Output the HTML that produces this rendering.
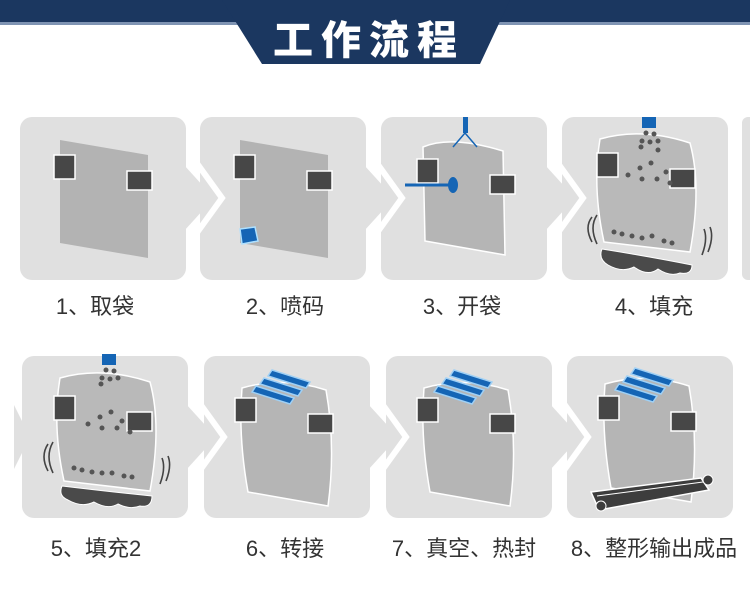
<!DOCTYPE html>
<html><head><meta charset="utf-8"><style>
html,body{margin:0;padding:0;background:#fff;width:750px;height:604px;overflow:hidden}
svg{display:block}
.lb{font-family:"Liberation Sans","Noto Sans CJK SC",sans-serif;font-size:22px;fill:#333}
</style></head><body>
<svg width="750" height="604" viewBox="0 0 750 604" xmlns="http://www.w3.org/2000/svg">
<defs>
<g id="tabs">
<rect x="34" y="38" width="21" height="24" fill="#474747" stroke="#fff" stroke-width="1.5"/>
<rect x="107" y="54" width="25" height="19" fill="#474747" stroke="#fff" stroke-width="1.5"/>
</g>
<g id="bars">
<g stroke="#9fd0f5" stroke-width="1.5" fill="#1565b5">
<polygon points="56,0 94,12 90,18 52,6"/>
<polygon points="48,8 86,20 82,26 44,14"/>
<polygon points="40,16 78,28 74,34 36,22"/>
</g>
</g>
<path id="rbag" d="M38,32 Q80,20 122,34 Q132,90 124,150 L44,136 Q34,80 38,32 Z" fill="#b5b5b5" stroke="#fff" stroke-width="1.5"/>
</defs>
<!-- header -->
<rect x="0" y="0" width="750" height="22" fill="#1b3760"/>
<rect x="0" y="22" width="750" height="3" fill="#7f94b3"/>
<polygon points="222,0 510,0 480,64 262,64" fill="#1b3760"/>
<text x="369" y="54" text-anchor="middle" font-family="'Noto Sans CJK SC',sans-serif" font-weight="900" font-size="40" fill="#fff" letter-spacing="8">工作流程</text>

<!-- panels -->
<g fill="#e0e0e0">
<rect x="20" y="117" width="166" height="163" rx="12"/>
<rect x="200" y="117" width="166" height="163" rx="12"/>
<rect x="381" y="117" width="166" height="163" rx="12"/>
<rect x="562" y="117" width="166" height="163" rx="12"/>
<rect x="742" y="117" width="20" height="163" rx="6"/>
<rect x="22" y="356" width="166" height="162" rx="12"/>
<rect x="204" y="356" width="166" height="162" rx="12"/>
<rect x="386" y="356" width="166" height="162" rx="12"/>
<rect x="567" y="356" width="166" height="162" rx="12"/>
<polygon points="14,405 30,437 14,469"/>
</g>
<!-- arrows -->
<g>
<g fill="#e0e0e0">
<polygon points="184,165 214,198 184,231"/>
<polygon points="364,165 394,198 364,231"/>
<polygon points="545,165 575,198 545,231"/>
<polygon points="186,404 216,437 186,470"/>
<polygon points="368,404 398,437 368,470"/>
<polygon points="550,404 580,437 550,470"/>
</g>
<g fill="none" stroke="#fff" stroke-width="6">
<polyline points="196,162 222,198 196,234"/>
<polyline points="376,162 402,198 376,234"/>
<polyline points="557,162 583,198 557,234"/>
<polyline points="198,401 224,437 198,473"/>
<polyline points="380,401 406,437 380,473"/>
<polyline points="562,401 588,437 562,473"/>
</g>
</g>

<!-- panel 1 -->
<g transform="translate(20,117)">
<polygon points="40,23 128,38 128,141 40,126" fill="#b3b3b3"/>
<use href="#tabs"/>
</g>
<!-- panel 2 -->
<g transform="translate(200,117)">
<polygon points="40,23 128,38 128,141 40,126" fill="#b3b3b3"/>
<use href="#tabs"/>
<polygon points="40,112 55,110 58,124 42,127" fill="#1565b5" stroke="#aee0ff" stroke-width="1.5"/>
</g>
<!-- panel 3 -->
<g transform="translate(381,117)">
<path d="M42,30 Q70,18 122,34 L124,138 L44,124 Z" fill="#b5b5b5" stroke="#fff" stroke-width="1.5"/>
<use href="#tabs" transform="translate(2,4)"/>
<rect x="82" y="0" width="5" height="16" fill="#1565b5"/>
<path d="M84,16 L72,30 M84,16 L96,30" stroke="#1565b5" stroke-width="1.5" fill="none"/>
<line x1="24" y1="68" x2="70" y2="68" stroke="#1565b5" stroke-width="3"/>
<ellipse cx="72" cy="68" rx="5" ry="8" fill="#1565b5"/>
</g>
<!-- panel 4 -->
<g transform="translate(562,117)">
<rect x="80" y="0" width="14" height="11" fill="#1565b5"/>
<path d="M38,22 Q80,10 128,26 Q140,70 128,135 Q86,130 42,125 Q30,70 38,22 Z" fill="#b9b9b9" stroke="#fff" stroke-width="1.5"/>
<use href="#tabs" transform="translate(1,-2)"/>
<g fill="#555"><circle cx="84" cy="16" r="2.5"/><circle cx="92" cy="17" r="2.5"/><circle cx="80" cy="24" r="2.5"/><circle cx="88" cy="25" r="2.5"/><circle cx="96" cy="24" r="2.5"/><circle cx="79" cy="30" r="2.5"/><circle cx="96" cy="33" r="2.5"/>
<circle cx="66" cy="58" r="2.5"/><circle cx="78" cy="51" r="2.5"/><circle cx="89" cy="46" r="2.5"/><circle cx="104" cy="55" r="2.5"/><circle cx="80" cy="62" r="2.5"/><circle cx="95" cy="62" r="2.5"/><circle cx="108" cy="66" r="2.5"/>
<circle cx="52" cy="115" r="2.5"/><circle cx="60" cy="117" r="2.5"/><circle cx="70" cy="119" r="2.5"/><circle cx="80" cy="121" r="2.5"/><circle cx="90" cy="119" r="2.5"/><circle cx="102" cy="124" r="2.5"/><circle cx="110" cy="126" r="2.5"/></g>
<path d="M40,132 Q90,140 130,148 Q130,158 118,156 Q108,160 96,152 Q86,160 72,150 Q60,156 46,148 Q36,142 40,132 Z" fill="#4a4a4a" stroke="#fff" stroke-width="1"/>
<path d="M30,100 Q22,110 30,125 M35,98 Q27,110 35,127 M148,110 Q152,120 146,135 M142,112 Q146,122 140,138" stroke="#444" stroke-width="1.6" fill="none"/>
</g>
<!-- panel 5 -->
<g transform="translate(22,356)">
<rect x="80" y="-2" width="14" height="11" fill="#1565b5"/>
<path d="M38,22 Q80,10 128,26 Q140,70 128,135 Q86,130 42,125 Q30,70 38,22 Z" fill="#b9b9b9" stroke="#fff" stroke-width="1.5"/>
<use href="#tabs" transform="translate(-2,2)"/>
<g fill="#555"><circle cx="84" cy="14" r="2.5"/><circle cx="92" cy="15" r="2.5"/><circle cx="80" cy="22" r="2.5"/><circle cx="88" cy="23" r="2.5"/><circle cx="96" cy="22" r="2.5"/><circle cx="79" cy="28" r="2.5"/>
<circle cx="66" cy="68" r="2.5"/><circle cx="78" cy="61" r="2.5"/><circle cx="89" cy="56" r="2.5"/><circle cx="100" cy="65" r="2.5"/><circle cx="80" cy="72" r="2.5"/><circle cx="95" cy="72" r="2.5"/><circle cx="108" cy="76" r="2.5"/>
<circle cx="52" cy="112" r="2.5"/><circle cx="60" cy="114" r="2.5"/><circle cx="70" cy="116" r="2.5"/><circle cx="80" cy="117" r="2.5"/><circle cx="90" cy="117" r="2.5"/><circle cx="102" cy="120" r="2.5"/><circle cx="110" cy="121" r="2.5"/></g>
<path d="M40,130 Q90,136 130,140 Q130,152 118,150 Q108,154 96,148 Q86,154 72,146 Q60,152 46,144 Q36,140 40,130 Z" fill="#4a4a4a" stroke="#fff" stroke-width="1"/>
<path d="M26,88 Q18,100 26,115 M31,86 Q23,100 31,117 M146,100 Q150,110 144,125 M140,102 Q144,112 138,128" stroke="#444" stroke-width="1.6" fill="none"/>
</g>
<!-- panel 6 -->
<g transform="translate(204,356)">
<use href="#rbag"/><use href="#tabs" transform="translate(-3,4)"/>
<use href="#bars" transform="translate(12,14)"/>
</g>
<!-- panel 7 -->
<g transform="translate(386,356)">
<use href="#rbag"/><use href="#tabs" transform="translate(-3,4)"/>
<use href="#bars" transform="translate(12,14)"/>
</g>
<!-- panel 8 -->
<g transform="translate(567,356)">
<use href="#rbag" transform="translate(0,-4)"/><use href="#tabs" transform="translate(-3,2)"/>
<use href="#bars" transform="translate(12,12)"/>
<polygon points="24,136 134,122 142,134 32,154" fill="#3d3d3d" stroke="#fff" stroke-width="1.5"/>
<line x1="30" y1="140" x2="136" y2="126" stroke="#fff" stroke-width="1"/>
<circle cx="141" cy="124" r="5" fill="#3d3d3d" stroke="#fff"/>
<circle cx="34" cy="150" r="5" fill="#3d3d3d" stroke="#fff"/>
</g>

<!-- labels -->
<text class="lb" x="95" y="314" text-anchor="middle">1、取袋</text>
<text class="lb" x="285" y="314" text-anchor="middle">2、喷码</text>
<text class="lb" x="462" y="314" text-anchor="middle">3、开袋</text>
<text class="lb" x="654" y="314" text-anchor="middle">4、填充</text>
<text class="lb" x="96" y="556" text-anchor="middle">5、填充2</text>
<text class="lb" x="285" y="556" text-anchor="middle">6、转接</text>
<text class="lb" x="464" y="556" text-anchor="middle">7、真空、热封</text>
<text class="lb" x="654" y="556" text-anchor="middle">8、整形输出成品</text>
</svg>
</body></html>
